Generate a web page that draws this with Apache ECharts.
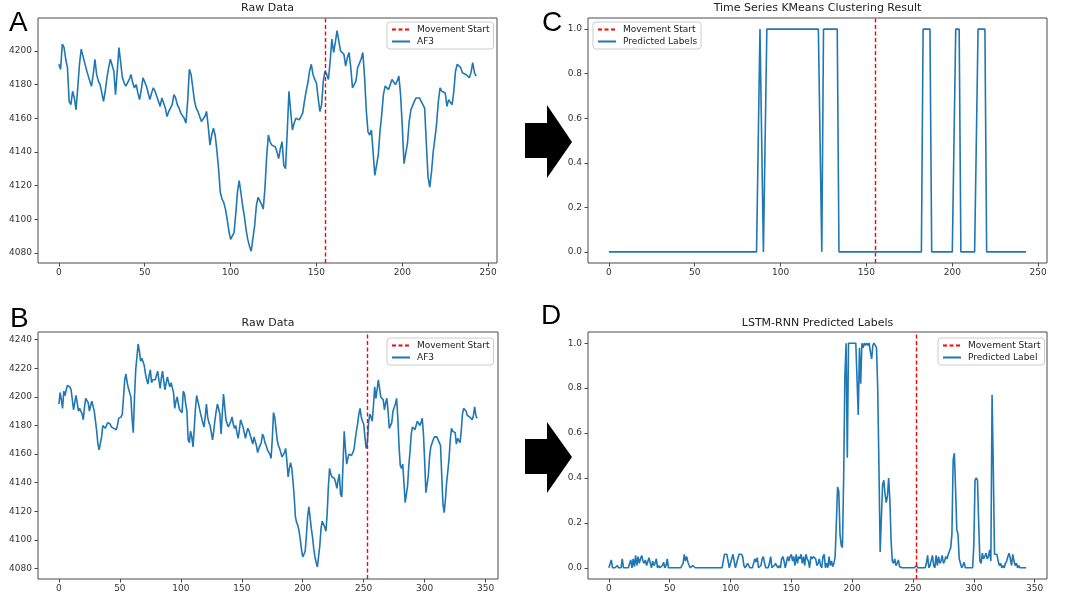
<!DOCTYPE html>
<html><head><meta charset="utf-8">
<script src="https://cdn.jsdelivr.net/npm/echarts@6/dist/echarts.min.js"></script>
<style>html,body{margin:0;padding:0;background:#fff}#c{width:1080px;height:607px}</style>
</head><body><div id="c"></div>
<script>
// ---- data ----
const rawA = [
4192,4189,4204,4202,4195,4190,4170,4168,4176,4172,
4165,4178,4192,4201,4200,4193,4189,4189,4182,4179,
4186,4195,4186,4182,4180,4175,4170,4176,4184,4190,
4195,4194,4188,4174,4188,4202,4193,4184,4181,4179,
4180,4183,4186,4181,4178,4180,4175,4171,4177,4184,
4183,4179,4175,4171,4175,4178,4176,4173,4170,4167,
4172,4173,4166,4161,4164,4165,4168,4174,4172,4168,
4166,4163,4162,4160,4157,4170,4189,4186,4178,4170,
4166,4164,4164,4158,4158,4161,4164,4155,4144,4150,
4154,4150,4141,4130,4116,4112,4110,4106,4100,4093,
4088,4087,4092,4103,4116,4123,4116,4108,4102,4094,
4088,4084,4081,4082,4096,4108,4113,4112,4109,4106,
4118,4137,4150,4146,4144,4143,4143,4140,4136,4142,
4146,4132,4130,4152,4176,4164,4153,4157,4160,4159,
4159,4160,4163,4170,4176,4181,4188,4192,4186,4183,
4181,4172,4164,4168,4182,4188,4186,4183,4194,4207,
4199,4205,4212,4206,4200,4200,4198,4191,4196,4199,
4190,4178,4177,4182,4190,4191,4195,4199,4185,4165,
4152,4150,4153,4140,4126,4125,4138,4152,4162,4174,
4179,4180,4177,4178,4183,4182,4180,4182,4185,4174,
4155,4133,4132,4145,4158,4165,4166,4170,4172,4173,
4172,4170,4168,4166,4145,4125,4119,4128,4140,4148,
4157,4170,4178,4176,4176,4175,4167,4171,4171,4168,
4176,4188,4192,4193,4190,4187,4186,4186,4186,4184,
4187,4193,4187,4185
];
const rawB = [
4195,4203,4198,4192,4204,4201,4205,4208,4208,4207,
4205,4198,4191,4196,4201,4196,4190,4192,4193,4188,
4184,4193,4199,4199,4196,4190,4194,4197,4197,4190,
4183,4176,4167,4163,4163,4172,4180,4179,4178,4180,
4182,4183,4181,4179,4179,4178,4178,4177,4180,4185,
4186,4186,4188,4200,4212,4216,4210,4206,4205,4200,
4185,4175,4200,4219,4228,4237,4232,4225,4227,4228,
4222,4216,4212,4209,4215,4219,4210,4212,4213,4212,
4211,4218,4212,4206,4213,4218,4211,4205,4210,4214,
4210,4207,4210,4209,4203,4192,4197,4200,4195,4191,
4192,4189,4204,4202,4195,4190,4170,4168,4176,4172,
4165,4178,4192,4201,4200,4193,4189,4189,4182,4179,
4186,4195,4186,4182,4180,4175,4170,4176,4184,4190,
4195,4194,4188,4174,4188,4202,4193,4184,4181,4179,
4180,4183,4186,4181,4178,4180,4175,4171,4177,4184,
4183,4179,4175,4171,4175,4178,4176,4173,4170,4167,
4172,4173,4166,4161,4164,4165,4168,4174,4172,4168,
4166,4163,4162,4160,4157,4170,4189,4186,4178,4170,
4166,4164,4164,4158,4158,4161,4164,4155,4144,4150,
4154,4150,4141,4130,4116,4112,4110,4106,4100,4093,
4088,4087,4092,4103,4116,4123,4116,4108,4102,4094,
4088,4084,4081,4082,4096,4108,4113,4112,4109,4106,
4118,4137,4150,4146,4144,4143,4143,4140,4136,4142,
4146,4132,4130,4152,4176,4164,4153,4157,4160,4159,
4159,4160,4163,4170,4176,4181,4188,4192,4186,4183,
4181,4172,4164,4168,4182,4188,4186,4183,4194,4207,
4199,4205,4212,4206,4200,4200,4198,4191,4196,4199,
4190,4178,4177,4182,4190,4191,4195,4199,4185,4165,
4152,4150,4153,4140,4126,4125,4138,4152,4162,4174,
4179,4180,4177,4178,4183,4182,4180,4182,4185,4174,
4155,4133,4132,4145,4158,4165,4166,4170,4172,4173,
4172,4170,4168,4166,4145,4125,4119,4128,4140,4148,
4157,4170,4178,4176,4176,4175,4167,4171,4171,4168,
4176,4188,4192,4193,4190,4187,4186,4186,4186,4184,
4187,4193,4187,4185
];
const kmeansLabels = [
0,0,0,0,0,0,0,0,0,0,
0,0,0,0,0,0,0,0,0,0,
0,0,0,0,0,0,0,0,0,0,
0,0,0,0,0,0,0,0,0,0,
0,0,0,0,0,0,0,0,0,0,
0,0,0,0,0,0,0,0,0,0,
0,0,0,0,0,0,0,0,0,0,
0,0,0,0,0,0,0,0,0,0,
0,0,0,0,0,0,0,0,1,1,
0,0,1,1,1,1,1,1,1,1,
1,1,1,1,1,1,1,1,1,1,
1,1,1,1,1,1,1,1,1,1,
1,1,1,1,0,1,1,1,1,1,
1,1,1,1,0,0,0,0,0,0,
0,0,0,0,0,0,0,0,0,0,
0,0,0,0,0,0,0,0,0,0,
0,0,0,0,0,0,0,0,0,0,
0,0,0,0,0,0,0,0,0,0,
0,0,0,1,1,1,1,1,0,0,
0,0,0,0,0,0,0,0,0,0,
0,0,1,1,1,0,0,0,0,0,
0,0,0,0,0,1,1,1,1,1,
0,0,0,0,0,0,0,0,0,0,
0,0,0,0,0,0,0,0,0,0,
0,0,0,0
];
const lstmLabels = [
0,0,0.035,0,0,0,0,0.01,0,0,
0,0.04,0,0,0,0,0,0,0.035,0,
0.04,0.005,0.055,0.01,0.05,0.02,0.04,0.055,0.03,0.02,
0.035,0.01,0.01,0.045,0.02,0,0.03,0.01,0.02,0.04,
0,0.01,0,0,0.01,0.025,0,0.01,0.04,0,
0,0,0,0,0,0,0,0,0,0,
0,0.02,0.06,0.03,0.05,0.025,0.01,0,0,0.01,
0.01,0,0,0,0.005,0,0,0,0,0,
0,0,0,0,0,0,0,0,0,0,
0,0,0,0,0,0.06,0.055,0.06,0.03,0,
0,0.04,0.06,0.03,0,0,0.04,0.06,0.055,0.06,
0.05,0.01,0,0,0.02,0.01,0,0,0,0.02,
0.04,0.025,0.045,0,0,0.01,0.04,0.05,0.02,0,
0,0,0.02,0.05,0,0,0.01,0.02,0.02,0,
0.01,0,0.04,0.05,0.03,0,0,0.05,0.03,0.05,
0.06,0.03,0.05,0.01,0.06,0.02,0.05,0.04,0.06,0.02,
0.05,0.01,0.06,0.04,0.03,0,0.05,0.04,0.05,0.05,
0.04,0.01,0.02,0.04,0.01,0,0.05,0.06,0,0.02,
0,0.05,0.01,0.03,0.005,0.02,0.05,0.2,0.36,0.34,
0.15,0.1,0.09,0.4,0.85,1,0.49,1,1,1,
1,1,1,1,1,0.68,0.98,0.82,1,0.98,
1,0.99,1,0.99,1,0.96,0.93,0.99,1,1,
0.98,0.8,0.45,0.07,0.22,0.37,0.39,0.33,0.29,0.32,
0.4,0.3,0.12,0.03,0.02,0.04,0.01,0.02,0.035,0.005,
0.01,0,0,0,0,0,0,0,0,0,
0,0,0,0.01,0,0,0,0,0,0,
0,0.02,0.055,0,0.01,0.01,0.055,0.01,0,0.055,
0.01,0.05,0.02,0.03,0.055,0.02,0.03,0.05,0.04,0.06,
0.065,0.09,0.15,0.48,0.51,0.35,0.17,0.15,0.04,0.02,
0,0.01,0.025,0,0,0,0,0,0,0,
0.1,0.39,0.4,0.39,0.2,0.03,0.02,0.065,0.04,0.05,
0.065,0.04,0.05,0.08,0.03,0.77,0.45,0.06,0.055,0.06,
0.03,0.01,0.02,0,0.01,0,0.02,0.03,0.05,0.065,
0.04,0.01,0.06,0.03,0.01,0.02,0,0.01,0,0,
0,0,0,0
];
const movementStartAC = 155;
const movementStartBD = 253;
const xTicksAC = [0, 50, 100, 150, 200, 250];
const xTicksBD = [0, 50, 100, 150, 200, 250, 300, 350];
const yTicksA = [4080, 4100, 4120, 4140, 4160, 4180, 4200];
const yTicksB = [4080, 4100, 4120, 4140, 4160, 4180, 4200, 4220, 4240];
const yTicksCD = [0, 0.2, 0.4, 0.6, 0.8, 1.0];
const panelTitles = ['Raw Data', 'Raw Data', 'Time Series KMeans Clustering Result', 'LSTM-RNN Predicted Labels'];
const panelLetters = ['A', 'B', 'C', 'D'];
const seriesNames = ['AF3', 'AF3', 'Predicted Labels', 'Predicted Label'];
const markerName = 'Movement Start';

// ---- layout / style ----
const FONT = 'DejaVu Sans';
const FRAME = '#4a4a4a';
const BLUE = '#1f77b4';
const RED = '#ff0000';
const grids = [
  {left: 38, top: 18, width: 459, height: 245},
  {left: 38, top: 332, width: 460, height: 247},
  {left: 588, top: 18, width: 459, height: 245},
  {left: 588, top: 332, width: 459, height: 247}
];
const xLim = [[-12.15, 255.15], [-17.15, 360.15], [-12.15, 255.15], [-17.15, 360.15]];
const yLim = [[4074, 4219.5], [4072.6, 4245.4], [-0.05, 1.05], [-0.05, 1.05]];
const xTicks = [xTicksAC, xTicksBD, xTicksAC, xTicksBD];
const yTicks = [yTicksA, yTicksB, yTicksCD, yTicksCD];
const yFmt = [v => String(v), v => String(v), v => v.toFixed(1), v => v.toFixed(1)];
const values = [rawA, rawB, kmeansLabels, lstmLabels];
const moves = [movementStartAC, movementStartBD, movementStartAC, movementStartBD];

const chart = echarts.init(document.getElementById('c'), null, {renderer: 'canvas'});

const xAxis = [], yAxis = [], series = [];
for (let i = 0; i < 4; i++) {
  const tickStyle = {show: true, inside: false, length: 3.5, lineStyle: {color: FRAME, width: 1}};
  xAxis.push({
    type: 'value', gridIndex: i, min: xLim[i][0], max: xLim[i][1], position: 'bottom',
    splitLine: {show: false}, axisLine: {show: false, onZero: false},
    axisTick: Object.assign({customValues: xTicks[i]}, tickStyle),
    axisLabel: {customValues: xTicks[i], fontSize: 9, color: '#333', fontFamily: FONT, margin: 5}
  });
  yAxis.push({
    type: 'value', gridIndex: i, min: yLim[i][0], max: yLim[i][1], position: 'left',
    splitLine: {show: false}, axisLine: {show: false, onZero: false},
    axisTick: Object.assign({customValues: yTicks[i]}, tickStyle),
    axisLabel: {customValues: yTicks[i], fontSize: 9, color: '#333', fontFamily: FONT, margin: 6, formatter: yFmt[i]}
  });
  series.push({
    type: 'line', name: markerName, xAxisIndex: i, yAxisIndex: i, data: [],
    symbol: 'none', silent: true,
    lineStyle: {color: RED, width: 1.4, type: [4, 2.5]},
    itemStyle: {color: RED},
    markLine: {
      silent: true, symbol: ['none', 'none'], label: {show: false},
      lineStyle: {color: RED, width: 1.4, type: [4, 2.5]},
      emphasis: {disabled: true},
      data: [{xAxis: moves[i]}]
    }
  });
  series.push({
    type: 'line', name: seriesNames[i], xAxisIndex: i, yAxisIndex: i,
    data: values[i].map((v, k) => [k, v]),
    symbol: 'none', showSymbol: false, smooth: false,
    lineStyle: {color: BLUE, width: 1.6},
    itemStyle: {color: BLUE},
    emphasis: {disabled: true}
  });
}

const legendBase = {
  orient: 'vertical', itemWidth: 18, itemHeight: 8, itemGap: 3,
  padding: [3, 4, 3, 4], borderColor: '#cccccc', borderWidth: 1, borderRadius: 3,
  backgroundColor: 'rgba(255,255,255,0.8)', selectedMode: false,
  itemStyle: {opacity: 0},
  textStyle: {fontSize: 9, color: '#222', fontFamily: FONT, padding: [0, 0, 0, 2]}
};
const legend = [
  Object.assign({left: 387, top: 22, data: [markerName, seriesNames[0]]}, legendBase),
  Object.assign({left: 387, top: 338, data: [markerName, seriesNames[1]]}, legendBase),
  Object.assign({left: 593, top: 22, data: [markerName, seriesNames[2]]}, legendBase),
  Object.assign({left: 938, top: 338, data: [markerName, seriesNames[3]]}, legendBase)
];

const titlePos = [[267.5, 8.5], [268, 323], [817.5, 8.5], [817.5, 323]];
const letterPos = [[9, 23], [10, 319], [542, 23], [541, 316]];
const graphic = [];
for (let i = 0; i < 4; i++) {
  graphic.push({
    type: 'text', x: titlePos[i][0], y: titlePos[i][1], silent: true,
    style: {text: panelTitles[i], font: '11px "' + FONT + '"', fill: '#222',
      align: 'center', verticalAlign: 'middle', textAlign: 'center', textVerticalAlign: 'middle'}
  });
  graphic.push({
    type: 'text', x: letterPos[i][0], y: letterPos[i][1], silent: true,
    style: {text: panelLetters[i], font: '28px "Liberation Sans"', fill: '#000',
      align: 'left', verticalAlign: 'middle', textAlign: 'left', textVerticalAlign: 'middle'}
  });
}
const arrows = [
  [[525, 123], [547, 123], [547, 105], [572, 142], [547, 178], [547, 158], [525, 158]],
  [[525, 439], [547, 439], [547, 422], [572, 457], [547, 493], [547, 474], [525, 474]]
];
arrows.forEach(pts => graphic.push({type: 'polygon', silent: true, shape: {points: pts}, style: {fill: '#000'}}));

chart.setOption({
  animation: false,
  backgroundColor: '#ffffff',
  grid: grids.map(g => Object.assign({show: true, borderColor: FRAME, borderWidth: 1, backgroundColor: 'transparent', containLabel: false}, g)),
  xAxis, yAxis, series, legend, graphic
});
</script>
</body></html>
